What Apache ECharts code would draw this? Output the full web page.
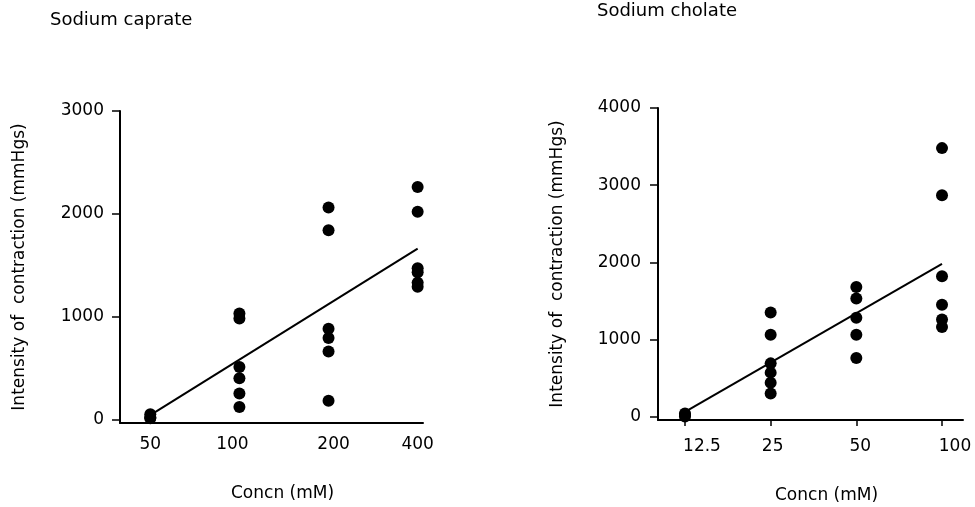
<!DOCTYPE html>
<html>
<head>
<meta charset="utf-8">
<title>Sodium caprate / Sodium cholate</title>
<script src="https://cdn.jsdelivr.net/npm/echarts@6/dist/echarts.min.js"></script>
<style>
  html, body { margin: 0; padding: 0; background: #fff; }
  #chart { width: 975px; height: 507px; }
</style>
</head>
<body>
<div id="chart"></div>
<script>
// concentrations (mM), one column per dose, plotted at equal spacing
var caprateConc = ['50', '100', '200', '400'];
var cholateConc = ['12.5', '25', '50', '100'];

// intensity of contraction (mmHgs), one list per dose
var caprateVals = [
  [50, 20, 10],
  [1030, 980, 510, 400, 250, 120],
  [2060, 1840, 880, 790, 660, 180],
  [2260, 2020, 1470, 1430, 1330, 1290]
];
var cholateVals = [
  [40, 20, 0],
  [1350, 1060, 690, 570, 440, 300],
  [1680, 1530, 1280, 1060, 760],
  [3480, 2870, 1820, 1450, 1260, 1160]
];

// regression lines: [first dose, last dose]
var caprateFit = [40, 1660];
var cholateFit = [60, 1980];

var yTicksCaprate = [0, 1000, 2000, 3000];
var yTicksCholate = [0, 1000, 2000, 3000, 4000];

// the printed labels sit a little off their ticks (px, + is right)
var caprateLabelShift = [0, -7, 5, 0];
var cholateLabelShift = [17, 2, 4, 13];

var ink = '#000';
var font = 'DejaVu Sans';

function toPoints(vals) {
  var res = [];
  for (var i = 0; i < vals.length; i++) {
    for (var j = 0; j < vals[i].length; j++) {
      res.push([i, vals[i][j]]);
    }
  }
  return res;
}

function xAxisFor(gridIndex, labels, shift, min, max, tickShow, margin) {
  var rich = {};
  for (var i = 0; i < shift.length; i++) {
    var s = shift[i] * 2;
    rich['s' + i] = {
      fontFamily: font, fontSize: 17, color: ink,
      padding: s >= 0 ? [0, 0, 0, s] : [0, -s, 0, 0]
    };
  }
  return {
    type: 'value',
    gridIndex: gridIndex,
    min: min,
    max: max,
    axisLine: { onZero: false, lineStyle: { color: ink, width: 2 } },
    axisTick: {
      show: tickShow,
      length: 6,
      customValues: [0, 1, 2, 3],
      lineStyle: { color: ink, width: 1.5 }
    },
    axisLabel: {
      customValues: [0, 1, 2, 3],
      margin: margin,
      color: ink,
      fontFamily: font,
      fontSize: 17,
      rich: rich,
      formatter: function (v) {
        var i = Math.round(v);
        return '{s' + i + '|' + labels[i] + '}';
      }
    },
    splitLine: { show: false }
  };
}

function yAxisFor(gridIndex, ticks, min, max, margin) {
  return {
    type: 'value',
    gridIndex: gridIndex,
    min: min,
    max: max,
    name: 'Intensity of  contraction (mmHgs)',
    nameLocation: 'middle',
    nameGap: 92,
    nameTextStyle: { color: ink, fontFamily: font, fontSize: 17 },
    axisLine: { onZero: false, lineStyle: { color: ink, width: 2 } },
    axisTick: {
      show: true,
      length: 8,
      customValues: ticks,
      lineStyle: { color: ink, width: 1.5 }
    },
    axisLabel: {
      customValues: ticks,
      margin: margin,
      color: ink,
      fontFamily: font,
      fontSize: 17,
      formatter: function (v) { return String(v); }
    },
    splitLine: { show: false }
  };
}

var myChart = echarts.init(document.getElementById('chart'));

var titleStyle = { color: ink, fontFamily: font, fontSize: 18, fontWeight: 'normal' };
var nameStyle = { color: ink, fontFamily: font, fontSize: 17, fontWeight: 'normal' };

var option = {
  backgroundColor: '#fff',
  animation: false,
  title: [
    { text: 'Sodium caprate', left: 50, top: 11, padding: 0, textStyle: titleStyle },
    { text: 'Sodium cholate', left: 597, top: 2, padding: 0, textStyle: titleStyle },
    { text: 'Concn (mM)', left: 231, top: 485, padding: 0, textStyle: nameStyle },
    { text: 'Concn (mM)', left: 775, top: 487, padding: 0, textStyle: nameStyle }
  ],
  grid: [
    { left: 120, top: 111, width: 303, height: 312 },
    { left: 658, top: 108, width: 305, height: 312 }
  ],
  xAxis: [
    xAxisFor(0, caprateConc, caprateLabelShift, -0.34, 3.06, false, 13),
    xAxisFor(1, cholateConc, cholateLabelShift, -0.315, 3.245, true, 18)
  ],
  yAxis: [
    yAxisFor(0, yTicksCaprate, -36, 3000, 16),
    yAxisFor(1, yTicksCholate, -44, 4000, 17)
  ],
  series: [
    {
      type: 'scatter', xAxisIndex: 0, yAxisIndex: 0,
      data: toPoints(caprateVals),
      symbolSize: 12, clip: false,
      itemStyle: { color: ink, opacity: 1 }
    },
    {
      type: 'line', xAxisIndex: 0, yAxisIndex: 0,
      data: [[0, caprateFit[0]], [caprateConc.length - 1, caprateFit[1]]],
      showSymbol: false, symbol: 'none',
      lineStyle: { color: ink, width: 2 }
    },
    {
      type: 'scatter', xAxisIndex: 1, yAxisIndex: 1,
      data: toPoints(cholateVals),
      symbolSize: 12, clip: false,
      itemStyle: { color: ink, opacity: 1 }
    },
    {
      type: 'line', xAxisIndex: 1, yAxisIndex: 1,
      data: [[0, cholateFit[0]], [cholateConc.length - 1, cholateFit[1]]],
      showSymbol: false, symbol: 'none',
      lineStyle: { color: ink, width: 2 }
    }
  ]
};

myChart.setOption(option);
window.addEventListener('resize', function () {
  myChart.resize();
});
</script>
</body>
</html>
